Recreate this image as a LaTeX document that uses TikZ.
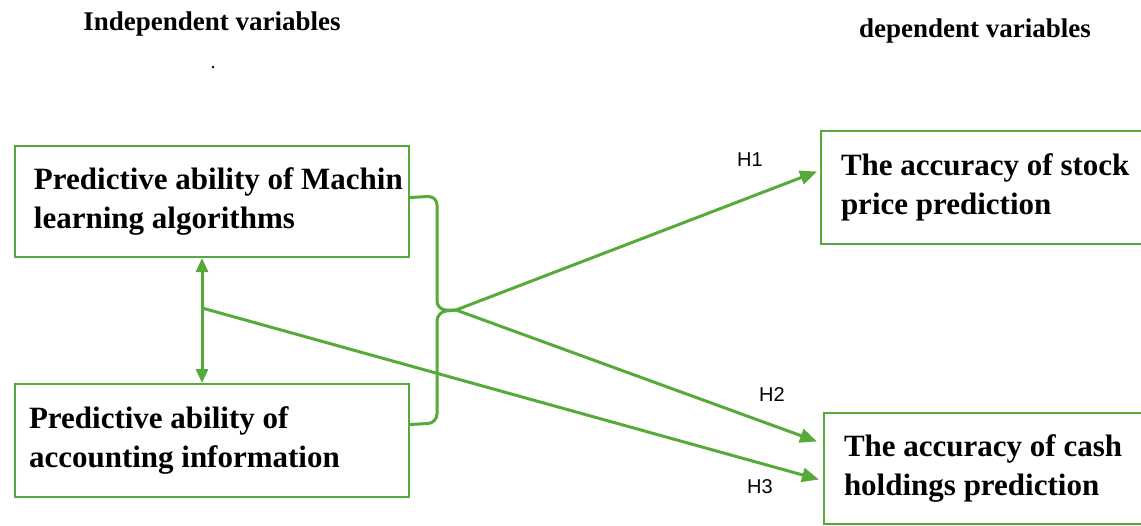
\documentclass[tikz,border=0pt]{standalone}
\usepackage{fontspec}
\setmainfont{Liberation Serif}
\newfontfamily\hsans{Liberation Sans}
\usetikzlibrary{arrows.meta,calc}
\definecolor{lgreen}{RGB}{86,170,58}
\tikzset{
  box/.style={draw=lgreen, line width=2pt, anchor=north west, align=flush left, inner xsep=0pt, inner ysep=0pt,
    font=\fontsize{31}{39}\selectfont\bfseries},
  conn/.style={draw=lgreen, line width=3pt},
  arr/.style={conn, -{Triangle[length=17pt,width=14pt]}},
  darr/.style={conn, {Triangle[length=14pt,width=12pt]}-{Triangle[length=14pt,width=12pt]}},
  head/.style={font=\fontsize{27}{30}\selectfont\bfseries},
  hlab/.style={font=\hsans\fontsize{20}{24}\selectfont}
}
\begin{document}
\begin{tikzpicture}[x=1pt,y=-1pt]
\useasboundingbox (0,0) rectangle (1141,525);
\node[head] (ih) at (212,24) {Independent variables};
\node[head] (dh) at (975,31) {dependent variables};
\node[font=\fontsize{20}{24}\selectfont] (dot) at (213,68) {.};
% boxes
\node[box, minimum width=394pt, minimum height=111pt, text width=394pt] (b1) at (14,145)
  {\hspace*{19pt}Predictive ability of Machin\\\hspace*{19pt}learning algorithms};
\node[box, minimum width=394pt, minimum height=113pt, text width=394pt] (b2) at (14,383)
  {\hspace*{14pt}Predictive ability of\\\hspace*{14pt}accounting information};
\node[box, minimum width=330pt, minimum height=113pt, text width=330pt] (b3) at (820,130)
  {\hspace*{20pt}The accuracy of stock\\\hspace*{20pt}price prediction};
\node[box, minimum width=330pt, minimum height=111pt, text width=330pt] (b4) at (823,412)
  {\hspace*{20pt}The accuracy of cash\\\hspace*{20pt}holdings prediction};
% junction and midpoint
\coordinate (J) at (456,310);
\coordinate (m) at (202,308);
% bracket
\draw[conn, rounded corners=9pt] ($(b1.east)+(0,-4)$) -- (437,196) -- (437,310) -- (J);
\draw[conn, rounded corners=9pt] ($(b2.east)+(0,-16)$) -- (437,423) -- (437,312) -- (J);
% arrows
\draw[arr] (J) -- ($(b3.west)+(-3,-16)$);
\draw[arr] (J) -- ($(b4.west)+(-6,-27)$);
\draw[arr] (m) -- ($(b4.west)+(-4,11)$);
\draw[darr] (b1.south -| m) -- (b2.north -| m);
% labels
\node[hlab] (h1) at (750,160) {H1};
\node[hlab] (h2) at (772,395) {H2};
\node[hlab] (h3) at (760,487) {H3};
\end{tikzpicture}
\end{document}
